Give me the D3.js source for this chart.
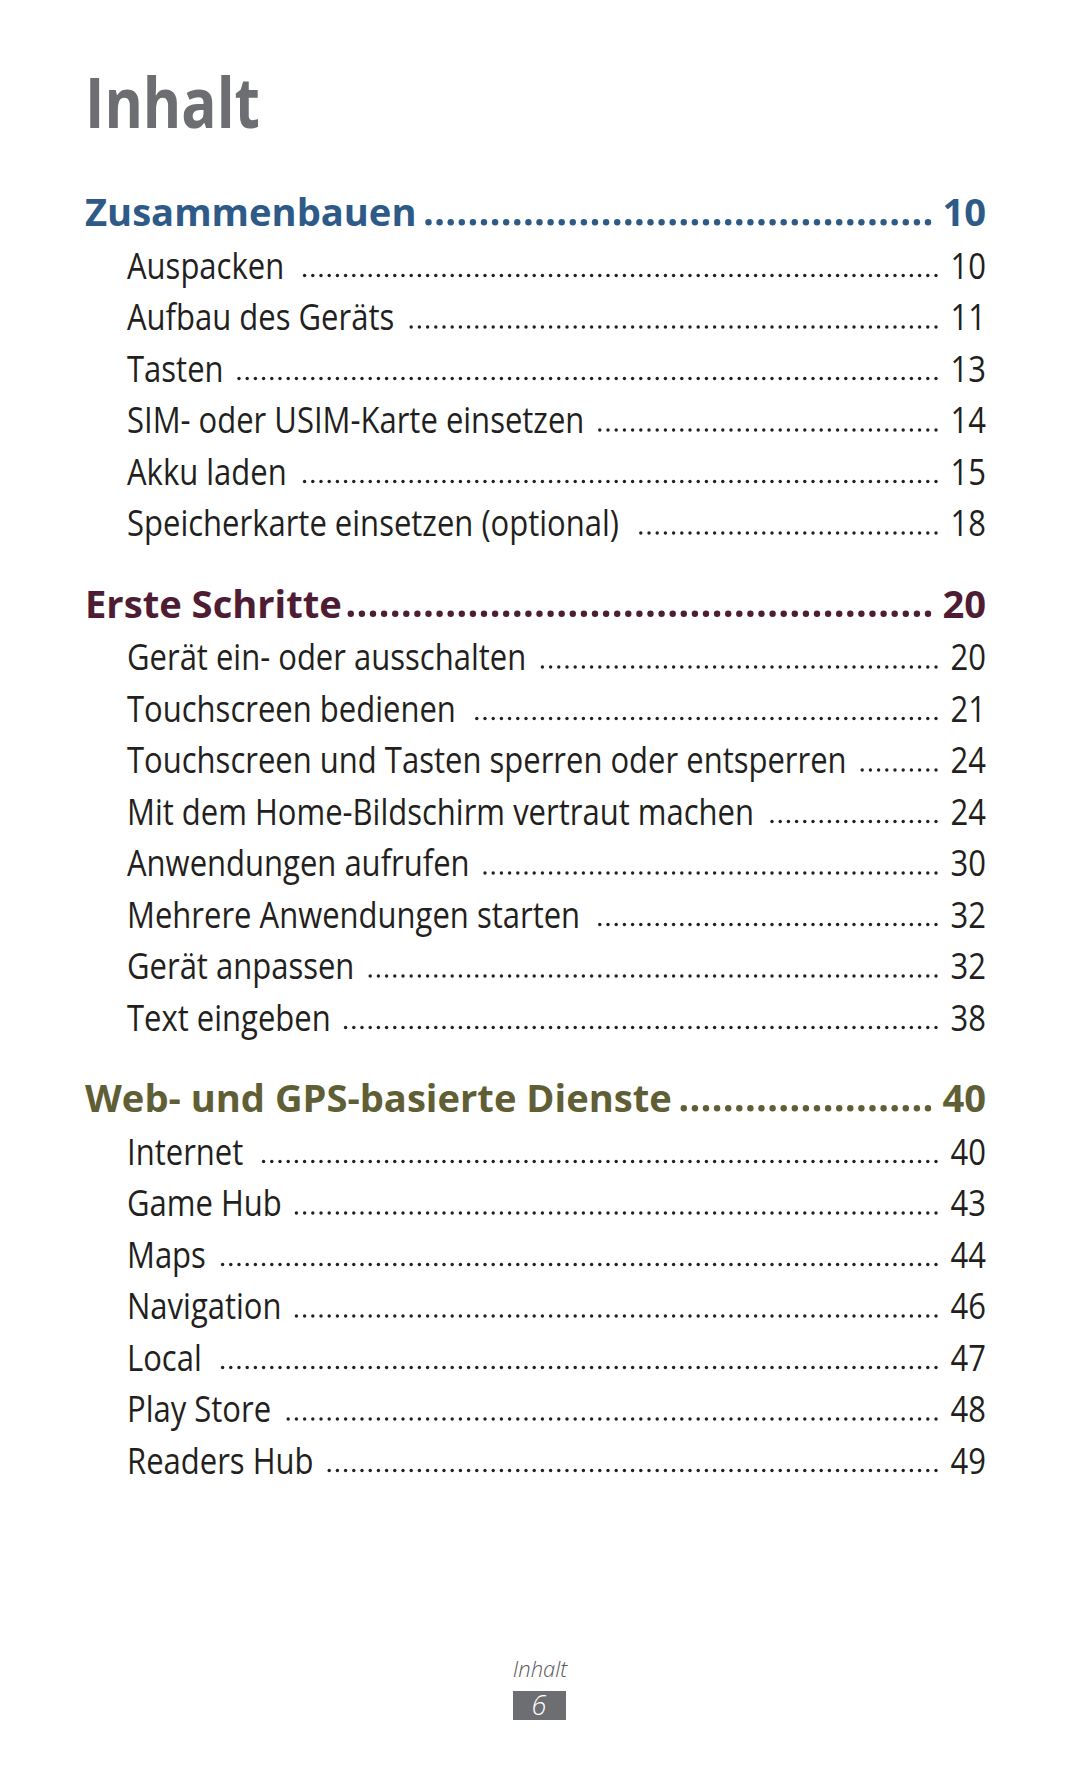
<!DOCTYPE html>
<html>
<head>
<meta charset="utf-8">
<script src="https://cdn.jsdelivr.net/npm/d3@7"></script>
<style>
  html, body { margin: 0; padding: 0; background: #ffffff; }
  svg { display: block; }
</style>
</head>
<body>
<svg id="page" width="1080" height="1771"></svg>
<script>
// ---- Data ----
const pageTitle = "Inhalt";
const sectionTitles = ["Zusammenbauen", "Erste Schritte", "Web- und GPS-basierte Dienste"];
const sectionPages = [10, 20, 40];
const section1Items = ["Auspacken", "Aufbau des Geräts", "Tasten", "SIM- oder USIM-Karte einsetzen", "Akku laden", "Speicherkarte einsetzen (optional)"];
const section1Pages = [10, 11, 13, 14, 15, 18];
const section2Items = ["Gerät ein- oder ausschalten", "Touchscreen bedienen", "Touchscreen und Tasten sperren oder entsperren", "Mit dem Home-Bildschirm vertraut machen", "Anwendungen aufrufen", "Mehrere Anwendungen starten", "Gerät anpassen", "Text eingeben"];
const section2Pages = [20, 21, 24, 24, 30, 32, 32, 38];
const section3Items = ["Internet", "Game Hub", "Maps", "Navigation", "Local", "Play Store", "Readers Hub"];
const section3Pages = [40, 43, 44, 46, 47, 48, 49];
const footerLabel = "Inhalt";
const footerPage = 6;

// ---- Styles ----
const sectionColors = ["#2e5a88", "#4e1d34", "#5f5e34"];
const textColor = "#231f20";
const fontFamily = "'Open Sans', 'Noto Sans', sans-serif";

const svg = d3.select("#page");

const itemLists = [section1Items, section2Items, section3Items];
const pageLists = [section1Pages, section2Pages, section3Pages];

// Build rows (layout computed here, not stored in data)
const rows = [];
itemLists.forEach((items, s) => {
  rows.push({type: "h", label: sectionTitles[s], page: sectionPages[s], sec: s});
  items.forEach((t, i) => rows.push({type: "i", label: t, page: pageLists[s][i], sec: s}));
});

// Vertical layout via cumulative positions
const headerStart = 226, headToItem = 52.5, itemStep = 51.5, sectionGap = 81.5;
let y = headerStart;
rows.forEach((r, k) => {
  if (k > 0) {
    const prev = rows[k - 1];
    if (r.type === "h") y += sectionGap;
    else if (prev.type === "h") y += headToItem;
    else y += itemStep;
  }
  r.y = y;
});

const xHead = 85, xItem = 127, xRight = 986;

// measure helper
function measure(str, size, weight) {
  const t = svg.append("text").attr("font-family", fontFamily)
    .attr("font-size", size).attr("font-weight", weight).text(str);
  const w = t.node().getComputedTextLength();
  t.remove();
  return w;
}

const itemSize = 37, headSize = 38, titleSize = 70;
const sxItem = 720 / measure("Touchscreen und Tasten sperren oder entsperren", itemSize, 400);
const sxHead = 587 / measure("Web- und GPS-basierte Dienste", headSize, 700);
const sxTitle = 175 / measure("Inhalt", titleSize, 700);

// Title
svg.append("text")
  .attr("transform", `translate(85,128) scale(${sxTitle},1)`)
  .attr("font-family", fontFamily).attr("font-size", titleSize).attr("font-weight", 700)
  .attr("fill", "#6d6e71").text(pageTitle);

const g = svg.append("g");

rows.forEach(r => {
  const isH = r.type === "h";
  const size = isH ? headSize : itemSize;
  const weight = isH ? 700 : 400;
  const sx = isH ? sxHead : sxItem;
  const color = isH ? sectionColors[r.sec] : textColor;
  const x0 = isH ? xHead : xItem;

  const label = g.append("text")
    .attr("transform", `translate(${x0},${r.y}) scale(${sx},1)`)
    .attr("font-family", fontFamily).attr("font-size", size).attr("font-weight", weight)
    .attr("fill", color).text(r.label);
  const textEnd = x0 + label.node().getComputedTextLength() * sx;

  g.append("text")
    .attr("transform", `translate(${xRight},${r.y}) scale(${sx},1)`)
    .attr("text-anchor", "end")
    .attr("font-family", fontFamily).attr("font-size", size).attr("font-weight", weight)
    .attr("fill", color).text(r.page);

  // leader dots, aligned from the right
  const dotEnd = isH ? 928 : 936;
  const step = isH ? 11.1 : 8.2;
  const rad = isH ? 3.2 : 1.7;
  const minGap = isH ? 7 : 14;
  const n = Math.floor((dotEnd - (textEnd + minGap)) / step) + 1;
  const dots = d3.range(Math.max(n, 0)).map(i => dotEnd - i * step);
  g.selectAll(null).data(dots).enter().append("circle")
    .attr("cx", d => d).attr("cy", r.y - (isH ? 3.8 : 3))
    .attr("r", rad).attr("fill", color);
});

// Footer
svg.append("text")
  .attr("x", 540).attr("y", 1677).attr("text-anchor", "middle")
  .attr("font-family", fontFamily).attr("font-size", 22).attr("font-style", "italic")
  .attr("font-weight", 300)
  .attr("fill", "#58595b").text(footerLabel);
svg.append("rect").attr("x", 513).attr("y", 1691).attr("width", 53).attr("height", 29)
  .attr("fill", "#6d6e71");
svg.append("text")
  .attr("x", 539).attr("y", 1715).attr("text-anchor", "middle")
  .attr("font-family", fontFamily).attr("font-size", 27).attr("font-style", "italic")
  .attr("font-weight", 300)
  .attr("fill", "#ffffff").text(footerPage);
</script>
</body>
</html>
